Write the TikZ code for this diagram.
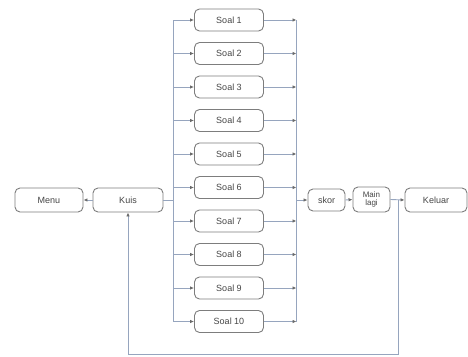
\documentclass[tikz,border=0pt]{standalone}
\usepackage{fontspec}
\setmainfont{Liberation Sans}
\usetikzlibrary{arrows.meta}
\definecolor{boxline}{RGB}{125,125,125}
\definecolor{conn}{RGB}{150,165,190}
\definecolor{txt}{RGB}{70,70,70}
\tikzset{
  box/.style={draw=boxline, line width=0.9pt, rounded corners=5pt, fill=white, inner sep=0pt, font=\fontsize{9}{9.5}\selectfont, text=txt, align=center},
  conn/.style={draw=conn, line width=0.9pt},
  arr/.style={conn, -{Latex[length=4pt,width=3.5pt,color=txt!80]}}
}
\begin{document}
\begin{tikzpicture}[x=1pt,y=-1pt]
\useasboundingbox (0,0) rectangle (468,356);
\node[box, minimum width=68pt, minimum height=24pt] (menu) at (49,200) {Menu};
\node[box, minimum width=70pt, minimum height=24pt] (kuis) at (128,200) {Kuis};
\foreach \i in {1,...,10} {
  \node[box, minimum width=69pt, minimum height=22pt] (s\i) at (229,{20+33.5*(\i-1)}) {Soal \i};
}
\node[box, minimum width=37pt, minimum height=22pt] (skor) at (326.5,200) {skor};
\node[box, minimum width=37pt, minimum height=25pt, font=\fontsize{8}{8.5}\selectfont] (main) at (371.5,199.5) {Main\\lagi};
\node[box, minimum width=62pt, minimum height=24pt] (keluar) at (436,200) {Keluar};
\coordinate (lb) at (173.5,200);
\coordinate (rb) at (296.5,200);
\coordinate (br) at (398,200);
\coordinate (bl) at (398,354);
\coordinate (bk) at (128,354);
% left bus
\draw[conn] (lb |- s1.west) -- (lb |- s10.west);
\draw[conn] (kuis.east) -- (lb);
\draw[arr] (kuis.west) -- (menu.east);
\foreach \i in {1,...,10} {
  \draw[arr] (lb |- s\i.west) -- (s\i.west);
  \draw[arr] (s\i.east) -- (rb |- s\i.east);
}
% right bus
\draw[conn] (rb |- s1.east) -- (rb |- s10.east);
\draw[arr] (rb) -- (skor.west);
\draw[arr] (skor.east) -- (main.west);
\draw[arr] (main.east) -- (keluar.west);
\draw[arr] (br) -- (bl) -- (bk) -- (kuis.south);
\end{tikzpicture}
\end{document}
